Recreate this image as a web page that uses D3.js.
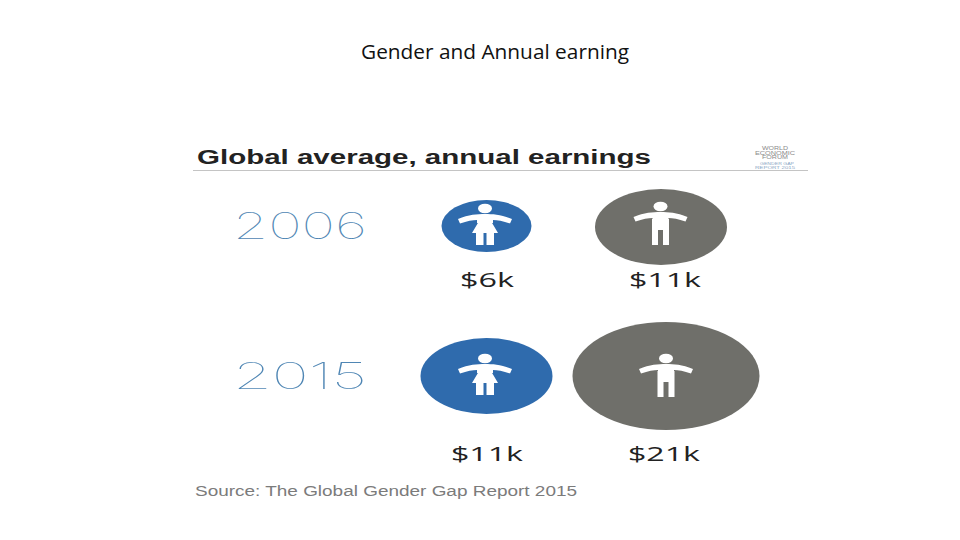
<!DOCTYPE html>
<html><head><meta charset="utf-8">
<script src="https://cdn.jsdelivr.net/npm/d3@7"></script>
<style>html,body{margin:0;padding:0;background:#fff}svg{display:block}text{font-family:"Liberation Sans",sans-serif}</style>
</head><body><svg id="c" width="960" height="540"></svg>
<script>
const years = ["2006","2015"];
const earningsFemale = [6,11];
const earningsMale = [11,21];
const labelsFemale = ["$6k","$11k"];
const labelsMale = ["$11k","$21k"];
const colors = {female:"#2f6bad",male:"#6f6f6a"};

const svg = d3.select("#c");
const rx = d3.scaleLinear().domain([6,11,21]).range([45,66,93.5]);
const ry = d3.scaleLinear().domain([6,11,21]).range([26,38,54]);
const yPos = d3.scalePoint().domain(years).range([226,376]);
const xF = 486.5;
const xM = {"2006":661,"2015":666};
const labelY = {"2006":287,"2015":461};

function fit(x,y,w,size,txt,attrs,style){
  const t = svg.append("text").attr("x",x).attr("y",y).attr("font-size",size).text(txt)
    .attr("textLength",w).attr("lengthAdjust","spacingAndGlyphs");
  Object.entries(attrs||{}).forEach(([k,v])=>t.attr(k,v));
  Object.entries(style||{}).forEach(([k,v])=>t.style(k,v));
  return t;
}
fit(361,59,268,20,"Gender and Annual earning",{fill:"#111"},{"font-family":"'Open Sans',sans-serif"});

fit(197,164,454,19.5,"Global average, annual earnings",{"font-weight":"bold","fill":"#222"});
svg.append("line").attr("x1",193).attr("x2",808).attr("y1",170.5).attr("y2",170.5).attr("stroke","#c4c4c4").attr("stroke-width",1);

[["WORLD",762,150,26],["ECONOMIC",755,154.5,40],["FORUM",762,159,26]].forEach(d=>
  fit(d[1],d[2],d[3],4.5,d[0],{fill:"#8a8a8a"}));
[["GENDER GAP",760,165,34],["REPORT 2015",755,168.5,40]].forEach(d=>
  fit(d[1],d[2],d[3],3.6,d[0],{fill:"#8aa6c4"}));

function person(g,cx,cy,female){
  const p = g.append("g").attr("transform",`translate(${cx},${cy})`).attr("fill","#fff");
  p.append("ellipse").attr("cx",0).attr("cy",-17.5).attr("rx",7).attr("ry",4.8);
  p.append("path").attr("d","M-27,-7 C-16,-11.5 -8,-12 0,-12 C8,-12 16,-11.5 27,-7 L25,-2.5 C18,-5 12,-6 8,-6 L8,-3 L-8,-3 L-8,-6 C-12,-6 -18,-5 -25,-2.5 Z");
  if(female){
    p.append("path").attr("d","M-6.5,-4 L6.5,-4 L13,7 L9,7 L9,19 L1.5,19 L1.5,7 L-1.5,7 L-1.5,19 L-9,19 L-9,7 L-13,7 Z");
  } else {
    p.append("path").attr("d","M-8.5,-5 L8.5,-5 L8.5,21 L2.5,21 L2.5,6 L-2.5,6 L-2.5,21 L-8.5,21 Z");
  }
}
const mLabelX = {"2006":665,"2015":664};
years.forEach((yr,i)=>{
  const cy = yPos(yr);
  fit(233,cy+13,134,37,yr,{fill:"#4f86b4"},{"font-family":"Inter,sans-serif","font-weight":"100"});
  const g = svg.append("g");
  const f = earningsFemale[i], m = earningsMale[i];
  g.append("ellipse").attr("cx",xF).attr("cy",cy).attr("rx",rx(f)).attr("ry",ry(f)).attr("fill",colors.female);
  g.append("ellipse").attr("cx",xM[yr]).attr("cy",cy+(i?0:1)).attr("rx",rx(m)).attr("ry",ry(m)).attr("fill",colors.male);
  person(g,xF-1.5,cy,true);
  person(g,xM[yr]-(i?0:0.5),cy+(i?0:-2),false);
  [[labelsFemale[i],487],[labelsMale[i],mLabelX[yr]]].forEach(d=>{
    const w = d[0].length===3?54:72;
    fit(d[1]-w/2,labelY[yr],w,20,d[0],{fill:"#222"},{"font-family":"'Open Sans',sans-serif"});
  });
});
fit(195,496,382,14,"Source: The Global Gender Gap Report 2015",{fill:"#7b7b7b"});
</script></body></html>
